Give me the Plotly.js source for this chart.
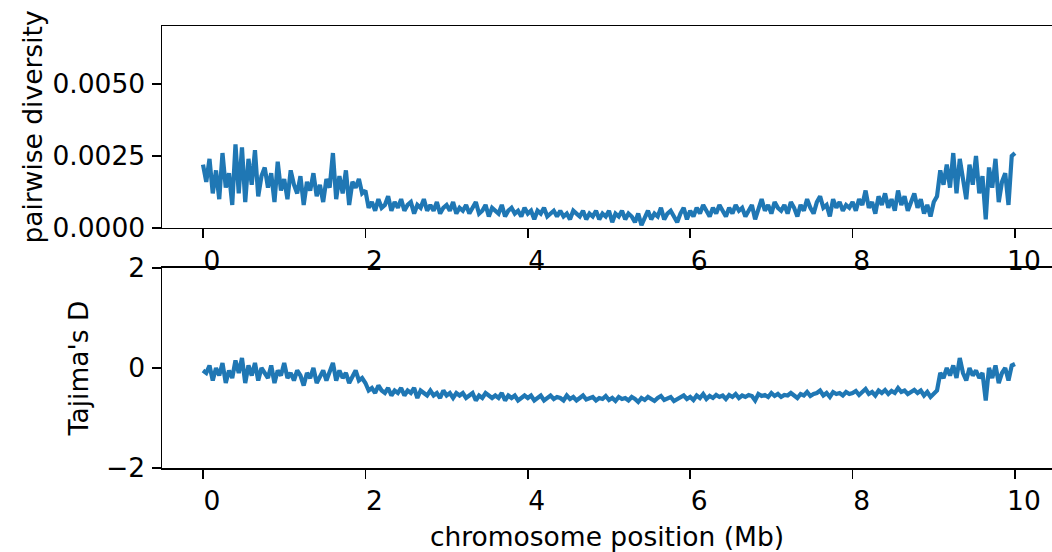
<!DOCTYPE html>
<html>
<head>
<meta charset="utf-8">
<script src="https://cdn.plot.ly/plotly-3.0.1.min.js"></script>
<style>html,body{margin:0;padding:0;background:#fff;}#chart{width:1052px;height:552px;}</style>
</head>
<body>
<div id="chart"></div>
<script>
// chromosome positions (Mb), one window every 0.04 Mb
const positionMb = Array.from({length: 251}, (_, i) => +(i * 0.04).toFixed(2));

// pairwise diversity per window
const pairwiseDiversity = [
 .0022,.0016,.0024,.0012,.0020,.0010,.0026,.0014,.0019,.0008,
 .0029,.0012,.0028,.0009,.0024,.0015,.0027,.0011,.0018,.0021,
 .0014,.0019,.0009,.0023,.0013,.0017,.0010,.0020,.0015,.0012,
 .0018,.0008,.0016,.0013,.0019,.0011,.0015,.0009,.0017,.0014,
 .0026,.0010,.0018,.0012,.0020,.0008,.0016,.0014,.0017,.0012,
 .0013,.0007,.0009,.0006,.0010,.0007,.0008,.0011,.0006,.0009,
 .0007,.0010,.0006,.0008,.0009,.0005,.0008,.0007,.0010,.0006,
 .0008,.0006,.0009,.0005,.0007,.0008,.0006,.0009,.0005,.0007,
 .0006,.0008,.0005,.0007,.0009,.0005,.0006,.0008,.0004,.0007,
 .0006,.0005,.0008,.0004,.0006,.0007,.0005,.0006,.0004,.0007,
 .0005,.0006,.0003,.0006,.0005,.0007,.0004,.0005,.0006,.0004,
 .0006,.0004,.0005,.0003,.0006,.0005,.0004,.0006,.0003,.0005,
 .0004,.0006,.0003,.0005,.0004,.0006,.0002,.0005,.0004,.0006,
 .0003,.0005,.0004,.0002,.0005,.0001,.0004,.0006,.0003,.0005,
 .0004,.0007,.0003,.0005,.0006,.0004,.0002,.0005,.0007,.0003,
 .0006,.0004,.0007,.0005,.0008,.0006,.0004,.0007,.0005,.0008,
 .0006,.0004,.0007,.0005,.0008,.0006,.0007,.0004,.0006,.0008,
 .0003,.0007,.0010,.0006,.0008,.0005,.0009,.0007,.0006,.0008,
 .0005,.0009,.0007,.0004,.0008,.0006,.0010,.0007,.0005,.0009,
 .0011,.0007,.0008,.0004,.0010,.0007,.0009,.0006,.0008,.0007,
 .0009,.0006,.0010,.0008,.0013,.0007,.0009,.0005,.0011,.0008,
 .0012,.0007,.0010,.0006,.0013,.0008,.0011,.0006,.0009,.0012,
 .0007,.0010,.0005,.0008,.0004,.0009,.0011,.0020,.0015,.0022,
 .0014,.0026,.0012,.0024,.0017,.0010,.0022,.0015,.0025,.0012,
 .0018,.0003,.0021,.0014,.0024,.0009,.0016,.0019,.0008,.0025,
 .0026
];

// Tajima's D per window
const tajimasD = [
 -0.05,-0.10,0.05,-0.25,0.00,-0.15,0.10,-0.30,-0.05,-0.20,
 0.15,-0.10,0.20,-0.30,0.05,-0.15,0.10,-0.25,0.00,-0.10,
 -0.20,0.05,-0.30,-0.05,-0.15,0.10,-0.20,-0.10,-0.25,-0.05,
 -0.15,-0.35,-0.10,-0.20,0.00,-0.30,-0.15,-0.05,-0.25,-0.10,
 0.10,-0.25,-0.05,-0.20,-0.10,-0.30,-0.15,-0.05,-0.25,-0.20,
 -0.30,-0.45,-0.40,-0.50,-0.35,-0.45,-0.50,-0.40,-0.55,-0.45,
 -0.50,-0.40,-0.55,-0.45,-0.50,-0.40,-0.60,-0.45,-0.50,-0.55,
 -0.45,-0.55,-0.50,-0.60,-0.45,-0.55,-0.50,-0.60,-0.50,-0.55,
 -0.50,-0.60,-0.55,-0.50,-0.65,-0.55,-0.60,-0.50,-0.55,-0.60,
 -0.55,-0.60,-0.50,-0.65,-0.55,-0.60,-0.55,-0.65,-0.60,-0.55,
 -0.60,-0.55,-0.65,-0.60,-0.55,-0.65,-0.60,-0.55,-0.62,-0.58,
 -0.60,-0.65,-0.55,-0.62,-0.58,-0.65,-0.60,-0.55,-0.63,-0.60,
 -0.58,-0.65,-0.60,-0.62,-0.56,-0.64,-0.60,-0.66,-0.58,-0.62,
 -0.60,-0.65,-0.58,-0.62,-0.68,-0.60,-0.64,-0.58,-0.62,-0.66,
 -0.60,-0.56,-0.64,-0.60,-0.58,-0.66,-0.62,-0.58,-0.55,-0.62,
 -0.58,-0.64,-0.55,-0.60,-0.52,-0.62,-0.56,-0.60,-0.54,-0.58,
 -0.55,-0.62,-0.54,-0.58,-0.52,-0.60,-0.55,-0.58,-0.54,-0.56,
 -0.65,-0.52,-0.56,-0.54,-0.58,-0.50,-0.56,-0.52,-0.58,-0.54,
 -0.55,-0.50,-0.56,-0.60,-0.52,-0.55,-0.48,-0.56,-0.52,-0.50,
 -0.45,-0.55,-0.50,-0.58,-0.48,-0.52,-0.50,-0.55,-0.48,-0.52,
 -0.50,-0.46,-0.54,-0.48,-0.42,-0.52,-0.48,-0.55,-0.45,-0.50,
 -0.44,-0.52,-0.46,-0.50,-0.40,-0.48,-0.45,-0.52,-0.48,-0.44,
 -0.50,-0.45,-0.55,-0.48,-0.58,-0.50,-0.45,-0.10,-0.20,0.00,
 -0.15,0.05,-0.20,0.20,-0.10,-0.25,0.00,-0.15,-0.05,-0.20,
 -0.10,-0.65,0.00,-0.20,0.05,-0.30,-0.10,0.00,-0.25,0.05,
 0.08
];

const xTickVals = [0, 2, 4, 6, 8, 10];
const xTickText = ["0", "2", "4", "6", "8", "10"];
const piTickVals = [0, 0.0025, 0.005];
const piTickText = ["0.0000", "0.0025", "0.0050"];
const dTickVals = [-2, 0, 2];
const dTickText = ["\u22122", "0", "2"];

const lineColor = "#1f77b4";
const font = {family: "DejaVu Sans, sans-serif", size: 26.5, color: "#000"};

const traces = [
  {x: positionMb, y: pairwiseDiversity, type: "scatter", mode: "lines",
   line: {color: lineColor, width: 4.2}, xaxis: "x", yaxis: "y", hoverinfo: "skip"},
  {x: positionMb, y: tajimasD, type: "scatter", mode: "lines",
   line: {color: lineColor, width: 4.2}, xaxis: "x2", yaxis: "y2", hoverinfo: "skip"}
];

const axisCommon = {
  showline: true, linecolor: "#000", linewidth: 1.5, mirror: false,
  ticks: "outside", ticklen: 9, tickwidth: 1.5, tickcolor: "#000",
  showgrid: false, zeroline: false, tickfont: font, fixedrange: true
};

const xRange = [-0.505, 10.456];

const layout = {
  width: 1052, height: 552,
  margin: {l: 162, r: 0, t: 26, b: 84, pad: 0},
  paper_bgcolor: "#fff", plot_bgcolor: "#fff",
  showlegend: false,
  font: font,
  xaxis: Object.assign({}, axisCommon, {
    domain: [0, 1], range: xRange, anchor: "y", mirror: true,
    tickmode: "array", tickvals: xTickVals, ticktext: xTickText,
    ticklabelstandoff: 0, ticklabelshift: 9
  }),
  yaxis: Object.assign({}, axisCommon, {
    domain: [0.543, 1], range: [0, 0.00701], anchor: "x",
    tickmode: "array", tickvals: piTickVals, ticktext: piTickText, ticklabelstandoff: 1,
    title: {text: "pairwise diversity", font: font, standoff: 2}
  }),
  xaxis2: Object.assign({}, axisCommon, {
    domain: [0, 1], range: xRange, anchor: "y2", mirror: true,
    tickmode: "array", tickvals: xTickVals, ticktext: xTickText,
    ticklabelstandoff: 0, ticklabelshift: 9,
    title: {text: "chromosome position (Mb)", font: font, standoff: 16}
  }),
  yaxis2: Object.assign({}, axisCommon, {
    domain: [0, 0.4525], range: [-2, 2], anchor: "x2",
    tickmode: "array", tickvals: dTickVals, ticktext: dTickText, ticklabelstandoff: 1,
    title: {text: "Tajima's D", font: font, standoff: 10}
  })
};

Plotly.newPlot("chart", traces, layout, {displayModeBar: false, staticPlot: true});
</script>
</body>
</html>
